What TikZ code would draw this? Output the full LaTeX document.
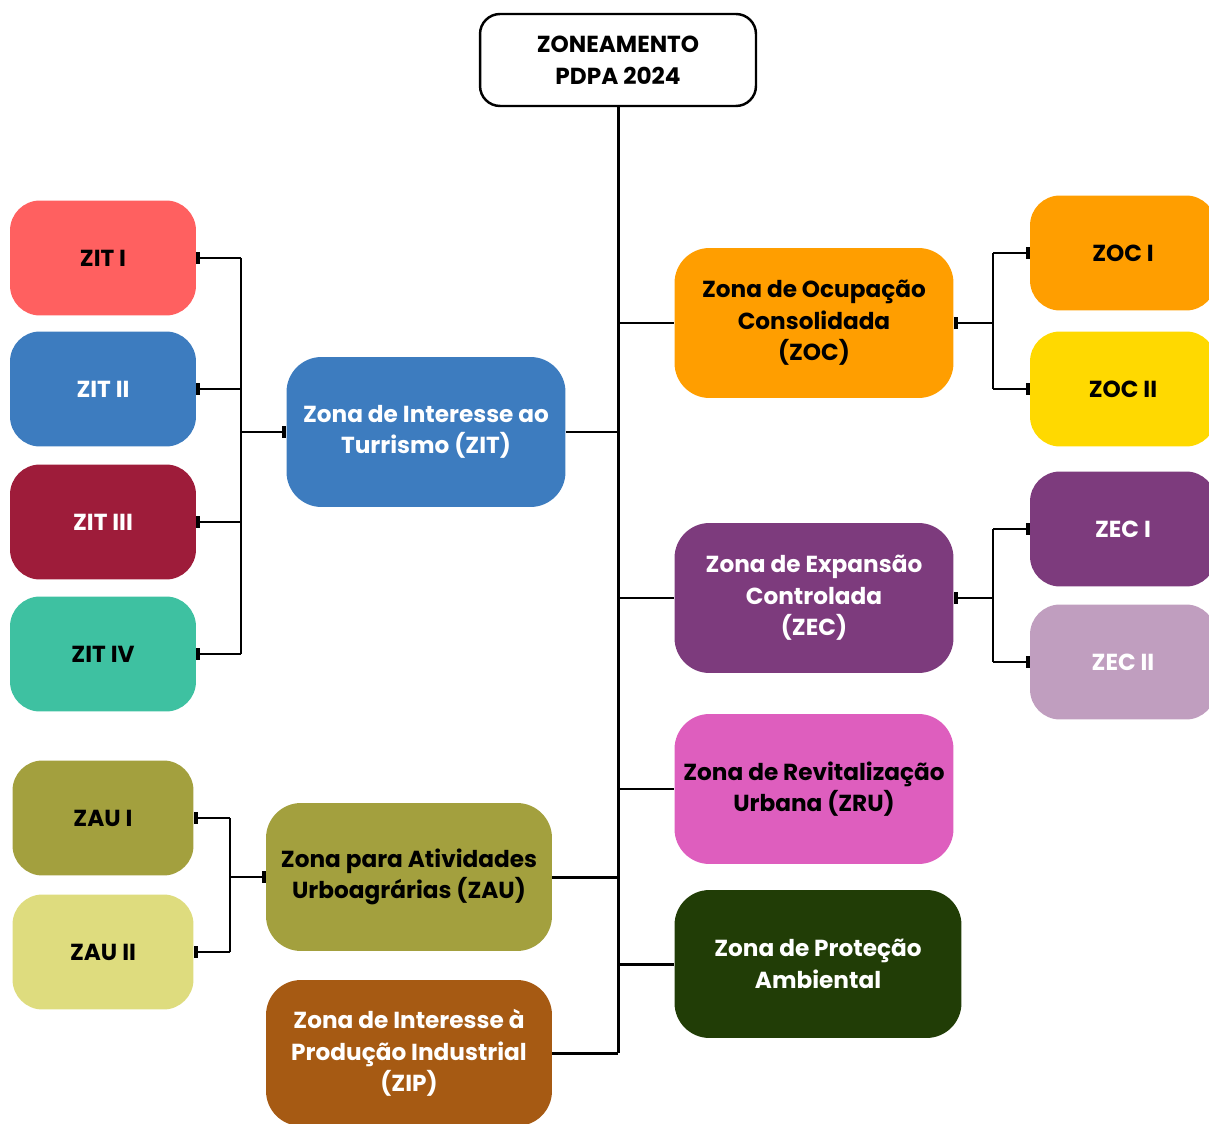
\documentclass[tikz,border=0pt]{standalone}
\usepackage{fontspec}
\setmainfont{Poppins}
\usetikzlibrary{arrows.meta, positioning, calc}
\definecolor{zitred}{HTML}{FF6060}
\definecolor{zitblue}{HTML}{3D7CBF}
\definecolor{zitwine}{HTML}{9E1C3A}
\definecolor{zitteal}{HTML}{3EC1A1}
\definecolor{zocorange}{HTML}{FF9E00}
\definecolor{zocyellow}{HTML}{FFD900}
\definecolor{zecpurple}{HTML}{7D3B7D}
\definecolor{zeclilac}{HTML}{C09EBF}
\definecolor{zrupink}{HTML}{DE5EBE}
\definecolor{zpagreen}{HTML}{213D06}
\definecolor{zauolive}{HTML}{A3A03E}
\definecolor{zaulight}{HTML}{DEDC7E}
\definecolor{zipbrown}{HTML}{A65A13}

\begin{document}
\begin{tikzpicture}[
  x=0.02cm, y=-0.02cm,
  bar/.tip={Rectangle[length=2.2pt, width=7pt]},
  zbox/.style={rounded corners=0.7cm, align=center, inner sep=4pt,
               font=\fontsize{13.2}{18}\selectfont\bfseries},
  subbox/.style={zbox, rounded corners=0.6cm, minimum width=3.72cm, minimum height=2.3cm},
  midbox/.style={zbox, minimum width=5.58cm, minimum height=3cm},
  trunk/.style={line width=1.7pt, black},
  sub/.style={line width=1.6pt, black},
]

\useasboundingbox (0,0) rectangle (1209,1124);
\clip (0,0) rectangle (1209,1124);

% Root
\node[zbox, rounded corners=0.4cm, draw=black, line width=1.4pt, fill=white,
      minimum width=5.52cm, minimum height=1.84cm] (root) at (618,60)
  {ZONEAMENTO\\PDPA 2024};

% === Right column: main zones ===
\node[midbox, fill=zocorange] (zoc) at (814,323)
  {Zona de Ocupação\\Consolidada\\(ZOC)};
\node[midbox, fill=zecpurple, text=white] (zec) at (814,598)
  {Zona de Expansão\\Controlada\\(ZEC)};
\node[midbox, fill=zrupink] (zru) at (814,789)
  {Zona de Revitalização\\Urbana (ZRU)};
\node[midbox, fill=zpagreen, text=white, minimum width=5.74cm, minimum height=2.96cm] (zpa) at (818,964)
  {Zona de Proteção\\Ambiental};

% === Left column: main zones ===
\node[midbox, fill=zitblue, text=white] (zit) at (426,432)
  {Zona de Interesse ao\\Turrismo (ZIT)};
\node[midbox, fill=zauolive, minimum width=5.72cm, minimum height=2.96cm] (zau) at (409,877)
  {Zona para Atividades\\Urboagrárias (ZAU)};
\node[midbox, fill=zipbrown, text=white, minimum width=5.72cm, minimum height=2.92cm] (zip) at (409,1053)
  {Zona de Interesse à\\Produção Industrial\\(ZIP)};

% === Sub-zones ===
\node[subbox, fill=zitred] (zit1) at (103,258) {ZIT I};
\node[subbox, fill=zitblue, text=white] (zit2) at (103,389) {ZIT II};
\node[subbox, fill=zitwine, text=white] (zit3) at (103,522) {ZIT III};
\node[subbox, fill=zitteal] (zit4) at (103,654) {ZIT IV};

\node[subbox, fill=zauolive, minimum width=3.62cm] (zau1) at (103,818) {ZAU I};
\node[subbox, fill=zaulight, minimum width=3.62cm] (zau2) at (103,952) {ZAU II};

\node[subbox, fill=zocorange] (zoc1) at (1123,253) {ZOC I};
\node[subbox, fill=zocyellow] (zoc2) at (1123,389) {ZOC II};
\node[subbox, fill=zecpurple, text=white] (zec1) at (1123,529) {ZEC I};
\node[subbox, fill=zeclilac, text=white] (zec2) at (1123,662) {ZEC II};

% Trunk and branches
\draw[trunk] (root.south) -- (root.south |- zip.east);
\foreach \z in {zoc, zec, zru, zpa}
  \draw[trunk] (root.south |- \z.west) -- (\z.west);
\foreach \z in {zit, zau, zip}
  \draw[trunk] (\z.east) -- (root.south |- \z.east);

% ZIT group
\coordinate (zitbus) at (241,432);
\draw[sub] (zitbus |- zit1.east) -- (zitbus |- zit4.east);
\draw[sub, -bar] (zitbus) -- (zit.west);
\foreach \z in {zit1, zit2, zit3, zit4}
  \draw[sub, -bar] (zitbus |- \z.east) -- (\z.east);

% ZAU group
\coordinate (zaubus) at (230,877);
\draw[sub] (zaubus |- zau1.east) -- (zaubus |- zau2.east);
\draw[sub, -bar] (zaubus) -- (zau.west);
\foreach \z in {zau1, zau2}
  \draw[sub, -bar] (zaubus |- \z.east) -- (\z.east);

% ZOC group
\coordinate (zocbus) at (993,323);
\draw[sub] (zocbus |- zoc1.west) -- (zocbus |- zoc2.west);
\draw[sub, bar-] (zoc.east) -- (zocbus);
\foreach \z in {zoc1, zoc2}
  \draw[sub, -bar] (zocbus |- \z.west) -- (\z.west);

% ZEC group
\coordinate (zecbus) at (993,598);
\draw[sub] (zecbus |- zec1.west) -- (zecbus |- zec2.west);
\draw[sub, bar-] (zec.east) -- (zecbus);
\foreach \z in {zec1, zec2}
  \draw[sub, -bar] (zecbus |- \z.west) -- (\z.west);

\end{tikzpicture}
\end{document}
